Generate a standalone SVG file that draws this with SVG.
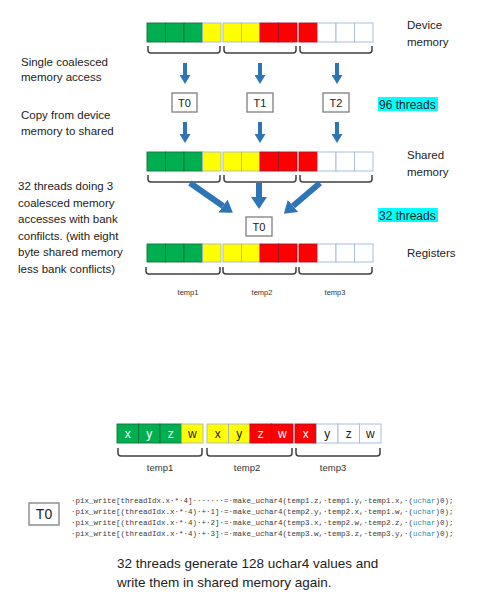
<svg xmlns="http://www.w3.org/2000/svg" width="504" height="600" viewBox="0 0 504 600">
<style>
text{font-family:"Liberation Sans",Arial,sans-serif;fill:#222}
.lbl{font-size:11.5px}
.g{fill:#00B050;stroke:#17703F;stroke-width:0.9}
.y{fill:#FFFF00;stroke:#9DB0C8;stroke-width:0.8}
.r{fill:#FF0000;stroke:#A8102A;stroke-width:0.9}
.w{fill:#FFFFFF;stroke:#A9BEDB;stroke-width:1}
.brace{fill:none;stroke:#404040;stroke-width:1.5}
.tbox{fill:#fff;stroke:#7F7F7F;stroke-width:1.3}
.tt{font-size:11px;text-anchor:middle}
.hl{fill:#00FFFF}
.arr{stroke:#2E75B6;stroke-width:4;fill:none}
.arr2{stroke:#2E75B6;stroke-width:6;fill:none}
.small{font-size:7.5px;text-anchor:middle;fill:#333}
.mid{font-size:9.5px;text-anchor:middle;fill:#333}
.lt{font-size:12px;text-anchor:middle;fill:#fff}
.dt{font-size:12px;text-anchor:middle;fill:#222}
.code{font-family:"Liberation Mono","Courier New",monospace;font-size:7.5px;fill:#3a3a3a}
.kw{fill:#2B91AF}
</style>
<defs>
<marker id="ah" markerUnits="userSpaceOnUse" markerWidth="9" markerHeight="11" refX="0" refY="5.5" orient="auto" viewBox="0 0 9 11">
<path d="M0,0 L9,5.5 L0,11 z" fill="#2E75B6"/>
</marker>
<marker id="ah2" markerUnits="userSpaceOnUse" markerWidth="12" markerHeight="16" refX="0" refY="8" orient="auto" viewBox="0 0 12 16">
<path d="M0,0 L12,8 L0,16 z" fill="#2E75B6"/>
</marker>
</defs>
<rect width="504" height="600" fill="#fff"/>

<!-- Device memory bar -->
<g id="device-memory">
<rect class="g" x="147" y="23" width="18.5" height="19"/><rect class="g" x="165.5" y="23" width="18.5" height="19"/><rect class="g" x="184" y="23" width="18.5" height="19"/><rect class="y" x="202.5" y="23" width="18.5" height="19"/>
<rect class="y" x="223" y="23" width="18.5" height="19"/><rect class="y" x="241.5" y="23" width="18.5" height="19"/><rect class="r" x="260" y="23" width="18.5" height="19"/><rect class="r" x="278.5" y="23" width="18.5" height="19"/>
<rect class="r" x="299" y="23" width="18.5" height="19"/><rect class="w" x="317.5" y="23" width="18.5" height="19"/><rect class="w" x="336" y="23" width="18.5" height="19"/><rect class="w" x="354.5" y="23" width="18.5" height="19"/>
<path class="brace" d="M148,46 V50 Q148,53 151,53 H217 Q220,53 220,50 V46 M224,46 V50 Q224,53 227,53 H293 Q296,53 296,50 V46 M300,46 V50 Q300,53 303,53 H369 Q372,53 372,50 V46"/>
<text class="lbl" x="407" y="29">Device</text>
<text class="lbl" x="407" y="46">memory</text>
</g>

<g id="label-single">
<text class="lbl" x="21" y="66">Single coalesced</text>
<text class="lbl" x="21" y="81">memory access</text>
</g>
<g id="label-copy">
<text class="lbl" x="21" y="119">Copy from device</text>
<text class="lbl" x="21" y="135">memory to shared</text>
</g>

<g id="t-row1">
<rect class="tbox" x="172" y="93" width="25" height="19"/><text class="tt" x="184.5" y="106.5">T0</text>
<rect class="tbox" x="247" y="93" width="26" height="19"/><text class="tt" x="260" y="106.5">T1</text>
<rect class="tbox" x="323" y="93" width="26" height="19"/><text class="tt" x="336" y="106.5">T2</text>
</g>
<g id="label-96">
<rect class="hl" x="378" y="97" width="60" height="14"/>
<text style="font-size:12px" x="379" y="108.5">96 threads</text>
</g>

<!-- Shared memory bar -->
<g id="shared-memory">
<rect class="g" x="147" y="152" width="18.5" height="19"/><rect class="g" x="165.5" y="152" width="18.5" height="19"/><rect class="g" x="184" y="152" width="18.5" height="19"/><rect class="y" x="202.5" y="152" width="18.5" height="19"/>
<rect class="y" x="223" y="152" width="18.5" height="19"/><rect class="y" x="241.5" y="152" width="18.5" height="19"/><rect class="r" x="260" y="152" width="18.5" height="19"/><rect class="r" x="278.5" y="152" width="18.5" height="19"/>
<rect class="r" x="299" y="152" width="18.5" height="19"/><rect class="w" x="317.5" y="152" width="18.5" height="19"/><rect class="w" x="336" y="152" width="18.5" height="19"/><rect class="w" x="354.5" y="152" width="18.5" height="19"/>
<path class="brace" d="M148,175 V179 Q148,182 151,182 H217 Q220,182 220,179 V175 M224,175 V179 Q224,182 227,182 H293 Q296,182 296,179 V175 M300,175 V179 Q300,182 303,182 H369 Q372,182 372,179 V175"/>
<text class="lbl" x="407" y="159">Shared</text>
<text class="lbl" x="407" y="176">memory</text>
</g>

<g id="label-32doing">
<text class="lbl" x="18" y="190">32 threads doing 3</text>
<text class="lbl" x="18" y="206.5">coalesced memory</text>
<text class="lbl" x="18" y="223">accesses with bank</text>
<text class="lbl" x="18" y="239.5">confilcts. (with eight</text>
<text class="lbl" x="18" y="256">byte shared memory</text>
<text class="lbl" x="18" y="272.5">less bank conflicts)</text>
</g>

<g id="t0-reg">
<rect class="tbox" x="246" y="217" width="26" height="19"/><text class="tt" x="259" y="230.5">T0</text>
</g>
<g id="label-32">
<rect class="hl" x="378" y="208" width="60" height="14"/>
<text style="font-size:12px" x="379" y="219.5">32 threads</text>
</g>

<!-- Registers bar -->
<g id="registers">
<rect class="g" x="147" y="244" width="18.5" height="18"/><rect class="g" x="165.5" y="244" width="18.5" height="18"/><rect class="g" x="184" y="244" width="18.5" height="18"/><rect class="y" x="202.5" y="244" width="18.5" height="18"/>
<rect class="y" x="223" y="244" width="18.5" height="18"/><rect class="y" x="241.5" y="244" width="18.5" height="18"/><rect class="r" x="260" y="244" width="18.5" height="18"/><rect class="r" x="278.5" y="244" width="18.5" height="18"/>
<rect class="r" x="299" y="244" width="18.5" height="18"/><rect class="w" x="317.5" y="244" width="18.5" height="18"/><rect class="w" x="336" y="244" width="18.5" height="18"/><rect class="w" x="354.5" y="244" width="18.5" height="18"/>
<path class="brace" d="M146,267 V271 Q146,274 149,274 H217 Q220,274 220,271 V267 M223,267 V271 Q223,274 226,274 H293 Q296,274 296,271 V267 M299,267 V271 Q299,274 302,274 H369 Q372,274 372,271 V267"/>
<text class="small" x="188" y="294.5">temp1</text>
<text class="small" x="262" y="294.5">temp2</text>
<text class="small" x="335" y="294.5">temp3</text>
<text class="lbl" x="407" y="257">Registers</text>
</g>

<g id="connectors">
<path class="arr" d="M185,63 V75" marker-end="url(#ah)"/>
<path class="arr" d="M260,63 V75" marker-end="url(#ah)"/>
<path class="arr" d="M337,63 V75" marker-end="url(#ah)"/>
<path class="arr" d="M185,122 V134" marker-end="url(#ah)"/>
<path class="arr" d="M260,122 V134" marker-end="url(#ah)"/>
<path class="arr" d="M337,122 V134" marker-end="url(#ah)"/>
<path class="arr2" d="M190,183 L223,206" marker-end="url(#ah2)"/>
<path class="arr2" d="M259,183 V197" marker-end="url(#ah2)"/>
<path class="arr2" d="M320,183 L293,206" marker-end="url(#ah2)"/>
</g>

<!-- Bottom labelled bar -->
<g id="xyzw-bar">
<rect class="g" x="117" y="424" width="21.5" height="19"/><rect class="g" x="138.5" y="424" width="21.5" height="19"/><rect class="g" x="160" y="424" width="21.5" height="19"/><rect class="y" x="181.5" y="424" width="21.5" height="19"/>
<rect class="y" x="207" y="424" width="21.5" height="19"/><rect class="y" x="228.5" y="424" width="21.5" height="19"/><rect class="r" x="250" y="424" width="21.5" height="19"/><rect class="r" x="271.5" y="424" width="21.5" height="19"/>
<rect class="r" x="295" y="424" width="21.5" height="19"/><rect class="w" x="316.5" y="424" width="21.5" height="19"/><rect class="w" x="338" y="424" width="21.5" height="19"/><rect class="w" x="359.5" y="424" width="21.5" height="19"/>
<text class="lt" x="127.75" y="438">x</text><text class="lt" x="149.25" y="438">y</text><text class="lt" x="170.75" y="438">z</text><text class="dt" x="192.25" y="438">w</text>
<text class="dt" x="217.75" y="438">x</text><text class="dt" x="239.25" y="438">y</text><text class="lt" x="260.75" y="438">z</text><text class="lt" x="282.25" y="438">w</text>
<text class="lt" x="305.75" y="438">x</text><text class="dt" x="327.25" y="438">y</text><text class="dt" x="348.75" y="438">z</text><text class="dt" x="370.25" y="438">w</text>
<path class="brace" d="M118,448 V453 Q118,456 121,456 H199 Q202,456 202,453 V448 M207,448 V453 Q207,456 210,456 H289 Q292,456 292,453 V448 M296,448 V453 Q296,456 299,456 H377 Q380,456 380,453 V448"/>
<text class="mid" x="160" y="471">temp1</text>
<text class="mid" x="247" y="471">temp2</text>
<text class="mid" x="333" y="471">temp3</text>
</g>

<g id="code">
<rect class="tbox" x="29" y="503" width="30" height="22"/><text style="font-size:14px;text-anchor:middle" x="44" y="519">T0</text>
<text class="code" x="71" y="502.5">·pix_write[threadIdx.x·*·4]·······=·make_uchar4(temp1.z,·temp1.y,·temp1.x,·(<tspan class="kw">uchar</tspan>)0);</text>
<text class="code" x="71" y="513.5">·pix_write[(threadIdx.x·*·4)·+·1]·=·make_uchar4(temp2.y,·temp2.x,·temp1.w,·(<tspan class="kw">uchar</tspan>)0);</text>
<text class="code" x="71" y="524.5">·pix_write[(threadIdx.x·*·4)·+·2]·=·make_uchar4(temp3.x,·temp2.w,·temp2.z,·(<tspan class="kw">uchar</tspan>)0);</text>
<text class="code" x="71" y="535.5">·pix_write[(threadIdx.x·*·4)·+·3]·=·make_uchar4(temp3.w,·temp3.z,·temp3.y,·(<tspan class="kw">uchar</tspan>)0);</text>
</g>

<g id="caption">
<text style="font-size:13.5px" x="117" y="567.5">32 threads generate 128 uchar4 values and</text>
<text style="font-size:13.5px" x="117" y="586.5">write them in shared memory again.</text>
</g>
</svg>
